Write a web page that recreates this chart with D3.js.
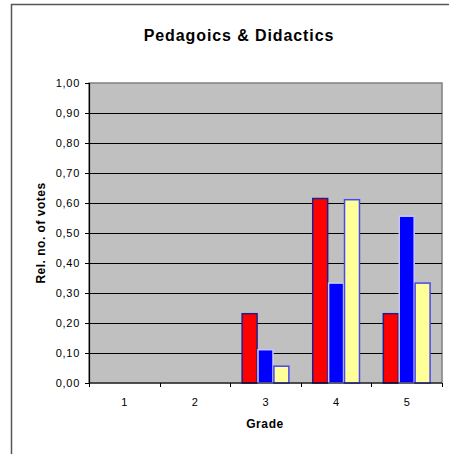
<!DOCTYPE html>
<html>
<head>
<meta charset="utf-8">
<script src="https://cdn.jsdelivr.net/npm/d3@7"></script>
<style>
    body { margin: 0; background: #fff; }
    text { font-family: Arial, "Liberation Sans", sans-serif; fill: #000; }
</style>
</head>
<body>
<div id="chart"></div>
<script>
const grades = ['1', '2', '3', '4', '5'];
const seriesNames = ['A', 'B', 'C'];
const seriesA = [0, 0, 0.231, 0.615, 0.231];
const seriesB = [0, 0, 0.111, 0.333, 0.556];
const seriesC = [0, 0, 0.056, 0.611, 0.333];
const yTicks = [0, 0.1, 0.2, 0.3, 0.4, 0.5, 0.6, 0.7, 0.8, 0.9, 1.0];

const fills = ['#ff0000', '#0000ff', '#ffff99'];
const strokes = ['#20208a', '#c8c8ff', '#4848f0'];

const width = 449;
const height = 454;
const margin = { left: 89, top: 83, right: 442, bottom: 383 };

const svg = d3
    .select('#chart')
    .append('svg')
    .attr('width', width)
    .attr('height', height);

// outer chart frame (cropped on the right and bottom)
svg.append('path')
    .attr('d', 'M11.5,' + height + 'V4.5H' + width)
    .attr('fill', 'none')
    .attr('stroke', '#555')
    .attr('stroke-width', 1.5);

svg.append('text')
    .attr('x', 239)
    .attr('y', 41)
    .attr('text-anchor', 'middle')
    .style('font-size', '16px')
    .style('font-weight', 'bold')
    .style('letter-spacing', '0.9px')
    .text('Pedagoics & Didactics');

const x = d3.scaleBand()
    .domain(grades)
    .range([margin.left, margin.right]);

const x1 = d3.scaleBand()
    .domain(seriesNames)
    .range([0, x.bandwidth()])
    .paddingInner(0.06)
    .paddingOuter(0.75);

const y = d3.scaleLinear()
    .domain([0, 1])
    .range([margin.bottom, margin.top]);

// plot area
svg.append('rect')
    .attr('x', margin.left)
    .attr('y', margin.top)
    .attr('width', margin.right - margin.left)
    .attr('height', margin.bottom - margin.top)
    .attr('fill', '#c0c0c0')
    .attr('stroke', '#808080')
    .attr('stroke-width', 1.5);

// gridlines
svg.append('g')
    .selectAll('line')
    .data(yTicks.filter(d => d > 0 && d < 1))
    .enter()
    .append('line')
    .attr('x1', margin.left)
    .attr('x2', margin.right)
    .attr('y1', d => Math.round(y(d)) + 0.5)
    .attr('y2', d => Math.round(y(d)) + 0.5)
    .attr('stroke', '#000')
    .attr('stroke-width', 1.2);

// bars
const series = [seriesA, seriesB, seriesC];
const groups = svg.append('g')
    .selectAll('g')
    .data(series)
    .enter()
    .append('g');

groups.selectAll('rect')
    .data((values, si) => values.map((v, i) => ({ grade: grades[i], value: v, si: si })))
    .enter()
    .filter(d => d.value > 0)
    .append('rect')
    .attr('x', d => x(d.grade) + x1(seriesNames[d.si]))
    .attr('y', d => y(d.value))
    .attr('width', x1.bandwidth())
    .attr('height', d => y(0) - y(d.value))
    .attr('fill', d => fills[d.si])
    .attr('stroke', d => strokes[d.si])
    .attr('stroke-width', 1.5);

// y axis
const yAxis = svg.append('g')
    .attr('transform', 'translate(' + margin.left + ',0)')
    .call(d3.axisLeft(y)
        .tickValues(yTicks)
        .tickSize(4)
        .tickPadding(5)
        .tickFormat(d => d3.format('.2f')(d).replace('.', ',')));
yAxis.select('.domain').attr('stroke', '#000').attr('stroke-width', 1.2);
yAxis.selectAll('text')
    .style('font-size', '11px')
    .style('letter-spacing', '0.7px')
    .style('font-family', 'Arial, "Liberation Sans", sans-serif');

// x axis
const xTickPos = grades.map(g => x(g)).concat([margin.right]);
const xAxis = svg.append('g');
xAxis.append('line')
    .attr('x1', margin.left)
    .attr('x2', margin.right)
    .attr('y1', y(0))
    .attr('y2', y(0))
    .attr('stroke', '#000')
    .attr('stroke-width', 1.2);
xAxis.selectAll('.tick')
    .data(xTickPos)
    .enter()
    .append('line')
    .attr('x1', d => Math.round(d) + 0.5)
    .attr('x2', d => Math.round(d) + 0.5)
    .attr('y1', y(0))
    .attr('y2', y(0) + 4)
    .attr('stroke', '#000');
xAxis.selectAll('text')
    .data(grades)
    .enter()
    .append('text')
    .attr('x', d => x(d) + x.bandwidth() / 2)
    .attr('y', 406)
    .attr('text-anchor', 'middle')
    .style('font-size', '11px')
    .text(d => d);

svg.append('text')
    .attr('x', 265)
    .attr('y', 428)
    .attr('text-anchor', 'middle')
    .style('font-size', '12px')
    .style('font-weight', 'bold')
    .style('letter-spacing', '0.6px')
    .text('Grade');

svg.append('text')
    .attr('transform', 'translate(45,' + ((margin.top + margin.bottom) / 2) + ') rotate(-90)')
    .attr('text-anchor', 'middle')
    .style('font-size', '12px')
    .style('font-weight', 'bold')
    .style('letter-spacing', '0.5px')
    .text('Rel. no. of votes');
</script>
</body>
</html>
